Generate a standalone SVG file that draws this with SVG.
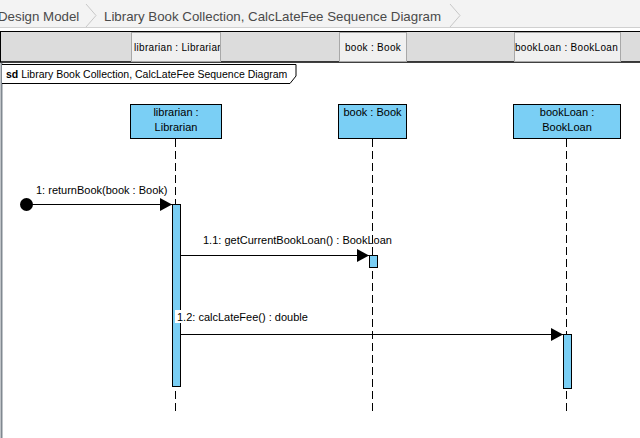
<svg xmlns="http://www.w3.org/2000/svg" width="640" height="438" viewBox="0 0 640 438">
<style>
text{font-family:"Liberation Sans",Arial,sans-serif;fill:#000}
.crumb{font-size:13.3px;fill:#4a4a4a}
.hdr{font-size:10px;letter-spacing:0.3px}
.obj{fill:#7acff5;stroke:#000;stroke-width:1}
.act{fill:#7acff5;stroke:#000;stroke-width:1}
.life{stroke:#000;stroke-width:1;stroke-dasharray:8,4;fill:none}
.msg{stroke:#000;stroke-width:1;fill:none}
.lbl{font-size:11px}
.ctr{text-anchor:middle}
.hbox{fill:#f0f0f0;stroke:#a8a8a8;stroke-width:1}
</style>
<defs>
<marker id="arr" markerWidth="13" markerHeight="13" refX="12" refY="6.5" orient="auto" markerUnits="userSpaceOnUse">
<path d="M0,0 L12,6.5 L0,13 Z" fill="#000"/>
</marker>
<clipPath id="clipLib"><rect x="132" y="32" width="88" height="30"/></clipPath>
<clipPath id="clipLoan"><rect x="515" y="32" width="105" height="30"/></clipPath>
</defs>
<rect x="0" y="0" width="640" height="438" fill="#fff"/>
<g id="breadcrumb">
<rect x="0" y="0" width="640" height="28" fill="#f3f3f3"/>
<line x1="0" y1="27.5" x2="640" y2="27.5" stroke="#d0d0d0"/>
<text class="crumb" x="-2" y="21">Design Model</text>
<polyline points="86,4 96,15.5 86,27" fill="none" stroke="#c8c8c8"/>
<text class="crumb" x="104" y="21">Library Book Collection, CalcLateFee Sequence Diagram</text>
<polyline points="450,4 460,15.5 450,27" fill="none" stroke="#c8c8c8"/>
</g>
<g id="header">
<rect x="0" y="31" width="640" height="31" fill="#dcdcdc"/>
<line x1="0" y1="31.5" x2="640" y2="31.5" stroke="#000"/>
<line x1="0" y1="62" x2="640" y2="62" stroke="#000" stroke-width="1.5"/>
<line x1="0.5" y1="31" x2="0.5" y2="62" stroke="#000"/>
<rect class="hbox" x="131.5" y="32.5" width="89" height="29"/>
<text class="hdr" x="134" y="51" clip-path="url(#clipLib)">librarian : Librarian</text>
<rect class="hbox" x="339.5" y="32.5" width="67" height="29"/>
<text class="hdr" x="345" y="51">book : Book</text>
<rect class="hbox" x="514.5" y="32.5" width="106" height="29"/>
<text class="hdr" x="515" y="51" clip-path="url(#clipLoan)">bookLoan : BookLoan</text>
</g>
<g id="frame">
<line x1="1.5" y1="63" x2="1.5" y2="438" stroke="#808890" stroke-width="2"/>
<path d="M2,64.5 H296 V76 L290,83.5 H2" fill="#fff" stroke="#000"/>
<text x="6" y="78" style="font-size:10.5px"><tspan font-weight="bold">sd</tspan> Library Book Collection, CalcLateFee Sequence Diagram</text>
</g>
<g id="connectors">
<line class="life" x1="175.5" y1="139" x2="175.5" y2="412"/>
<line class="life" x1="372.5" y1="139" x2="372.5" y2="412"/>
<line class="life" x1="566.5" y1="139" x2="566.5" y2="412"/>
<circle cx="26.5" cy="204.5" r="6.5" fill="#000"/>
<line class="msg" x1="26.5" y1="204.5" x2="172" y2="204.5" marker-end="url(#arr)"/>
<line class="msg" x1="181" y1="255.5" x2="369" y2="255.5" marker-end="url(#arr)"/>
<line class="msg" x1="181" y1="334.5" x2="563" y2="334.5" marker-end="url(#arr)"/>
</g>
<g id="librarian">
<rect class="obj" x="130.5" y="104.5" width="91" height="34"/>
<text class="lbl ctr" x="176" y="116">librarian :</text>
<text class="lbl ctr" x="176" y="131">Librarian</text>
<rect class="act" x="172.5" y="204.5" width="8" height="182"/>
</g>
<g id="book">
<rect class="obj" x="338.5" y="104.5" width="68" height="34"/>
<text class="lbl ctr" x="372.5" y="116">book : Book</text>
<rect class="act" x="369.5" y="255.5" width="8" height="12"/>
</g>
<g id="bookLoan">
<rect class="obj" x="513.5" y="104.5" width="107" height="34"/>
<text class="lbl ctr" x="567" y="116">bookLoan :</text>
<text class="lbl ctr" x="567" y="131">BookLoan</text>
<rect class="act" x="563.5" y="334.5" width="8" height="54"/>
</g>
<g id="labels">
<text class="lbl" x="36" y="194">1: returnBook(book : Book)</text>
<text class="lbl" x="203" y="244">1.1: getCurrentBookLoan() : BookLoan</text>
<rect x="175" y="310" width="134" height="13" fill="#fff"/>
<text class="lbl" x="177" y="321">1.2: calcLateFee() : double</text>
</g>
</svg>
